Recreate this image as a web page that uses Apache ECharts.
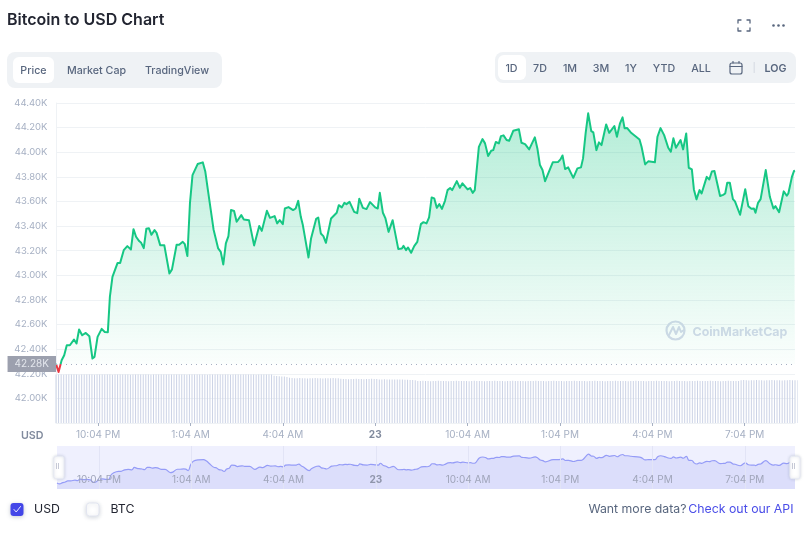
<!DOCTYPE html>
<html><head><meta charset="utf-8">
<style>html,body{margin:0;padding:0;background:#fff}#c{width:807px;height:540px}</style>
<script src="https://cdn.jsdelivr.net/npm/echarts@6/dist/echarts.min.js"></script>
</head><body><div id="c"></div>
<script>
const pointMinutes = [0,5,11,16,21,27,35,40,45,51,58,65,71,75,81,89,95,101,105,110,120,125,132,139,146,151,156,162,166,171,176,181,186,192,196,203,211,221,226,235,240,247,251,256,261,266,276,286,291,296,307,310,316,321,326,331,336,341,347,352,361,366,376,386,396,401,411,417,426,431,436,442,446,453,462,467,472,477,481,492,497,507,511,516,521,526,536,547,551,557,562,566,572,581,587,591,598,605,612,622,627,631,637,642,648,656,667,674,677,682,686,692,698,704,711,716,722,727,732,737,742,747,752,758,763,768,772,781,787,792,802,807,812,816,824,831,836,842,848,852,857,863,867,872,878,883,891,902,907,914,922,933,938,943,948,953,968,978,983,987,992,998,1008,1016,1023,1027,1032,1037,1043,1047,1053,1058,1063,1072,1078,1088,1093,1099,1104,1108,1113,1120,1137,1141,1148,1154,1167,1172,1178,1185,1193,1198,1203,1208,1217,1222,1228,1233,1239,1243,1248,1254,1258,1268,1273,1278,1283,1294,1300,1304,1308,1313,1319,1323,1333,1343,1349,1355,1360,1363,1368,1373,1383,1391,1398,1402,1409,1418,1424,1427,1434,1438,1440];
const prices = [42280,42215,42310,42351,42432,42432,42478,42446,42560,42513,42532,42505,42324,42337,42500,42565,42540,42538,42825,42987,43101,43101,43204,43237,43210,43375,43313,43278,43264,43221,43378,43383,43329,43367,43345,43245,43245,43015,43048,43248,43248,43272,43253,43156,43584,43814,43904,43918,43841,43692,43373,43361,43218,43191,43088,43259,43318,43530,43522,43435,43489,43454,43448,43243,43400,43361,43524,43467,43481,43422,43448,43416,43543,43554,43530,43543,43605,43475,43408,43145,43300,43459,43470,43340,43318,43264,43462,43508,43570,43552,43589,43578,43597,43516,43505,43622,43548,43538,43595,43552,43543,43670,43508,43462,43353,43448,43213,43218,43239,43205,43226,43183,43237,43272,43416,43432,43422,43470,43633,43625,43548,43578,43540,43605,43692,43709,43692,43765,43711,43747,43698,43709,43670,43692,44044,44107,44072,43969,44012,44017,44083,44072,44131,44137,44099,44093,44174,44186,44077,44066,44023,44121,44031,43896,43855,43765,43918,43920,43942,43974,43863,43877,43792,43869,43877,43950,44153,44316,44172,44161,44017,44080,44058,44226,44158,44213,44126,44235,44283,44194,44196,44161,44104,44044,43901,43926,43918,44126,44196,44139,44036,44004,44113,44036,44099,44023,44153,43874,43861,43698,43617,43692,43665,43800,43779,43844,43847,43644,43654,43665,43752,43752,43619,43600,43492,43700,43562,43540,43543,43508,43589,43619,43855,43638,43543,43562,43513,43682,43646,43665,43800,43847,43850];
const volumes = [24.2,24.3,24.2,24.1,24.2,24.2,24.3,24.2,24.2,24.1,24.2,24.3,24.2,24.2,24.2,24.1,24.2,24.2,24.3,24.2,24.2,24.2,24.1,24.2,24.3,24.2,24.2,24.2,24.2,24.1,24.2,24.2,24.3,24.3,24.2,24.2,24.2,24.1,24.2,24.2,24.2,24.3,24.2,24.2,24.2,24.2,24.3,24.3,24.2,24.2,24.2,24.1,24.2,24.2,24.2,24.2,24.3,24.2,24.2,24.1,24.2,24.2,24.2,24.3,24.2,24.2,24.2,24.2,24.1,24.2,24.2,24.2,24.3,24.2,24.2,24.2,24.2,24.2,24.1,24.2,24.2,24.2,24.3,24.2,24.2,
23.6,23.5,23.4,23.3,23.2,23.0,22.6,22.5,22.4,22.4,22.5,22.4,22.4,22.3,22.4,22.4,22.5,22.4,22.4,22.3,22.4,22.4,22.4,22.5,22.4,22.4,
22.1,22.0,22.0,21.9,22.0,22.0,22.1,22.0,22.0,21.9,22.0,22.0,22.1,22.0,22.0,21.8,21.8,21.9,21.8,21.8,21.7,21.8,21.8,21.7,21.7,21.6,21.6,21.5,21.5,21.4,
21.0,21.0,21.1,21.0,21.0,20.9,21.0,21.0,21.1,21.0,21.0,21.0,20.9,21.0,21.0,21.1,21.0,21.0,21.0,21.0,20.9,21.0,21.1,21.0,21.0,21.0,20.9,21.0,21.0,21.0,21.1,21.0,21.0,21.0,20.9,21.0,21.0,21.1,21.0,21.0,21.0,21.0,20.9,21.0,21.0,21.0,21.1,21.0,21.0,21.0,20.9,21.0,21.0,21.1,21.0,21.0,21.0,20.9,21.0,21.0,21.0,21.1,21.0,21.0,21.0,21.0,20.9,21.0,21.0,21.1,21.0,21.0,21.0,20.9,21.0,21.0,21.0,21.1,21.0,21.0,21.0,21.0,20.9,21.0,21.0,21.1,21.0,21.0,21.0,20.9,21.0,21.0,21.0,21.1,21.0,21.0,21.0,21.0,20.9,21.0,21.0,21.1,21.0,21.0,21.0,20.9,21.0,21.0,21.0,21.1,21.0,21.0,21.0,21.0,21.1,21.0,21.0,21.0,20.9,21.0,21.0,21.1,21.0,21.0,21.0,21.0,
21.4,21.5,21.4,21.3,21.4,21.4,21.5,21.4,21.4,21.3,21.4,21.4,21.5,21.4,21.4,21.4,21.3,21.4,21.4,21.5,21.4,21.4,21.4,21.3,21.4,21.5,21.4];
const tickMinutes = [82,262,442,622,802,982,1162,1342];
const tickLabels = ['10:04 PM','1:04 AM','4:04 AM','23','10:04 AM','1:04 PM','4:04 PM','7:04 PM'];
const openPrice = 42280;
const openLabel = '42.28K';
const rangeTabs = ['1D','7D','1M','3M','1Y','YTD','ALL'];

const FONT = 'Inter, "Noto Sans", sans-serif';
const priceData = pointMinutes.map((m,i)=>[m,prices[i]]);
const volData = volumes.map((v,i)=>[i*5,v]);
const fmtTick = v => { const i = tickMinutes.indexOf(v); if(i<0) return ''; return tickLabels[i]==='23' ? '{b|23}' : tickLabels[i]; };
const txt = (x,y,text,size,weight,fill,align) => ({type:'text',x,y,z:50,silent:true,style:{text,font:`${weight} ${size}px ${FONT}`,fill,align:align||'left',verticalAlign:'middle'}});
const rr = (x,y,w,h,r,fill,extra) => ({type:'rect',z:40,silent:true,shape:{x,y,width:w,height:h,r},style:Object.assign({fill},extra||{})});
const ln = (pts,stroke,w,z) => ({type:'polyline',z:z||50,silent:true,shape:{points:pts},style:{stroke,lineWidth:w,fill:'none',lineCap:'round',lineJoin:'round'}});
const rangeX = [511.5,540,570,601,631,664,701];
const gray='#58667e', wm='#d5daea';
const graphics = [
  txt(7,20.5,'Bitcoin to USD Chart',16,600,'#222531'),
  rr(7,52,215,36,8,'#eff2f5'), rr(13,57,41,26,6,'#fff'),
  txt(33.5,70.5,'Price',10.7,500,gray,'center'), txt(96.5,70.5,'Market Cap',10.7,500,gray,'center'), txt(177,70.5,'TradingView',10.7,500,gray,'center'),
  rr(495,52,301,31,8,'#eff2f5'), rr(498,55,28,25,6,'#fff'),
  ...rangeTabs.map((t,i)=>txt(rangeX[i],68.5,t,10.7,500,gray,'center')),
  txt(775.5,68.5,'LOG',10.7,600,gray,'center'),
  rr(730,63,12,11,2,'none',{stroke:gray,lineWidth:1.2}), ln([[730,66.5],[742,66.5]],gray,1.2), ln([[733,61.5],[733,63]],gray,1.2), ln([[739,61.5],[739,63]],gray,1.2),
  rr(753.5,62,1.5,11,0,'#dde1e8'),
  ln([[738,23],[738,20],[741,20]],gray,1.3), ln([[747,20],[750,20],[750,23]],gray,1.3), ln([[738,28],[738,31],[741,31]],gray,1.3), ln([[747,31],[750,31],[750,28]],gray,1.3),
  ...[773.5,778.5,783.5].map(x=>({type:'circle',z:50,silent:true,shape:{cx:x,cy:25.5,r:1.3},style:{fill:gray}})),
  txt(21,435.5,'USD',10.7,600,'#808a9d'),
  {type:'circle',z:1,silent:true,shape:{cx:675.5,cy:330.5,r:9},style:{stroke:wm,lineWidth:2.2,fill:'none'}},
  ln([[669,335],[673,327],[676,334],[679,327],[681,332],[684,330]],wm,2,1),
  {type:'text',x:692.5,y:332,z:1,silent:true,style:{text:'CoinMarketCap',font:`700 12.4px ${FONT}`,fill:wm,verticalAlign:'middle'}},
  rr(10.5,503,13,13,3,'#4346e8',{shadowBlur:4,shadowColor:'rgba(88,102,126,.35)',shadowOffsetY:1}),
  ln([[14,509.5],[16.2,512],[20.5,506.5]],'#e8e9ff',1),
  txt(34,509.5,'USD',12.3,400,'#222531'),
  rr(86.5,503,12.5,13,3,'#fff',{stroke:'#e2e5f0',lineWidth:1,shadowBlur:4,shadowColor:'rgba(88,102,126,.25)',shadowOffsetY:1}),
  txt(110.5,509.5,'BTC',12.3,400,'#222531'),
  txt(686.5,509.5,'Want more data?',12.3,400,gray,'right'),
  txt(793.5,509.5,'Check out our API',12.3,400,'#4a4de8','right'),
  ...[56,58,792,794].map(x=>({type:'rect',z:60,silent:true,shape:{x,y:463,width:1,height:6},style:{fill:'#c6c9d6'}})),
];
const chart = echarts.init(document.getElementById('c'),null,{renderer:'canvas'});
chart.setOption({
  animation:false,
  textStyle:{fontFamily:FONT},
  graphic:graphics,
  grid:[
    {left:56,right:12,top:103,height:320},
    {left:57,right:12,top:446,height:43,show:true,backgroundColor:'#eff0fe',borderWidth:0}
  ],
  xAxis:[
    {type:'value',gridIndex:0,min:0,max:1440,splitLine:{show:false},
     axisLine:{show:true,lineStyle:{color:'#eff2f5'}},
     axisTick:{show:true,customValues:tickMinutes,length:3,lineStyle:{color:'#a6b0c3'}},
     axisLabel:{customValues:tickMinutes,formatter:fmtTick,color:'#a6b0c3',fontSize:10,fontFamily:FONT,margin:7,
       rich:{b:{fontWeight:700,color:'#808a9d',fontSize:10,fontFamily:FONT}}}},
    {type:'value',gridIndex:1,min:0,max:1440,z:6,
     splitLine:{show:true,lineStyle:{color:'#e2e4f6'}},
     axisLine:{show:false},axisTick:{show:false,customValues:tickMinutes},
     axisLabel:{inside:true,customValues:tickMinutes,formatter:fmtTick,color:'#a0a5ba',fontSize:10,fontFamily:FONT,margin:4,
       rich:{b:{fontWeight:700,color:'#8f95ab',fontSize:10,fontFamily:FONT}}}}
  ],
  yAxis:[
    {type:'value',gridIndex:0,min:41800,max:44400,interval:200,
     axisLine:{show:true,lineStyle:{color:'#eff2f5'}},axisTick:{show:false},
     splitLine:{show:true,lineStyle:{color:'#eff2f5'}},
     axisLabel:{color:'#a6b0c3',fontSize:9.5,fontFamily:FONT,margin:8.5,
       formatter:v=> v===41800?'':(v/1000).toFixed(2)+'K'}},
    {type:'value',gridIndex:0,min:0,max:160,show:false,splitLine:{show:false}},
    {type:'value',gridIndex:1,min:41860,max:44880,show:false,splitLine:{show:false}}
  ],
  visualMap:[{show:false,type:'piecewise',seriesIndex:1,dimension:1,
    pieces:[{min:41800,max:openPrice,color:'#ea3943'},{min:openPrice,max:44400,color:'#16c784'}]}],
  dataZoom:[{type:'slider',xAxisIndex:0,filterMode:'none',start:0,end:100,left:57,right:12,top:446,height:43,
    showDataShadow:false,showDetail:false,brushSelect:false,borderColor:'transparent',backgroundColor:'transparent',fillerColor:'transparent',
    moveHandleSize:0,
    handleIcon:'path://M3 0H7A3 3 0 0 1 10 3V19A3 3 0 0 1 7 22H3A3 3 0 0 1 0 19V3A3 3 0 0 1 3 0Z',handleSize:'52%',
    handleStyle:{color:'#fff',borderColor:'#e8eaf4',shadowBlur:3,shadowColor:'rgba(88,102,126,.25)'}}],
  series:[
    {type:'bar',name:'Volume',xAxisIndex:0,yAxisIndex:1,data:volData,barWidth:1,itemStyle:{color:'#ccd3e6'},z:1,silent:true},
    {type:'line',name:'Price',xAxisIndex:0,yAxisIndex:0,data:priceData,showSymbol:false,symbol:'none',z:3,silent:true,
     lineStyle:{width:2,join:'round'},
     areaStyle:{origin:openPrice,color:new echarts.graphic.LinearGradient(0,0,0,1,[{offset:0,color:'rgba(22,199,132,0.46)'},{offset:1,color:'rgba(22,199,132,0.01)'}])},
     markLine:{silent:true,symbol:'none',animation:false,
       lineStyle:{color:'#a6b0c3',type:[1,4],width:1},
       label:{position:'start',formatter:openLabel,backgroundColor:'#9ca0ae',color:'#e3e6ec',fontSize:10,fontFamily:FONT,padding:[3,7,3,7],distance:0},
       data:[{yAxis:openPrice}]}},
    {type:'line',name:'Overview',xAxisIndex:1,yAxisIndex:2,data:priceData,showSymbol:false,symbol:'none',z:1,silent:true,smooth:0.4,
     lineStyle:{width:1.2,color:'#959cf7'},areaStyle:{color:'#dcdefb',opacity:1}}
  ]
});
</script></body></html>
